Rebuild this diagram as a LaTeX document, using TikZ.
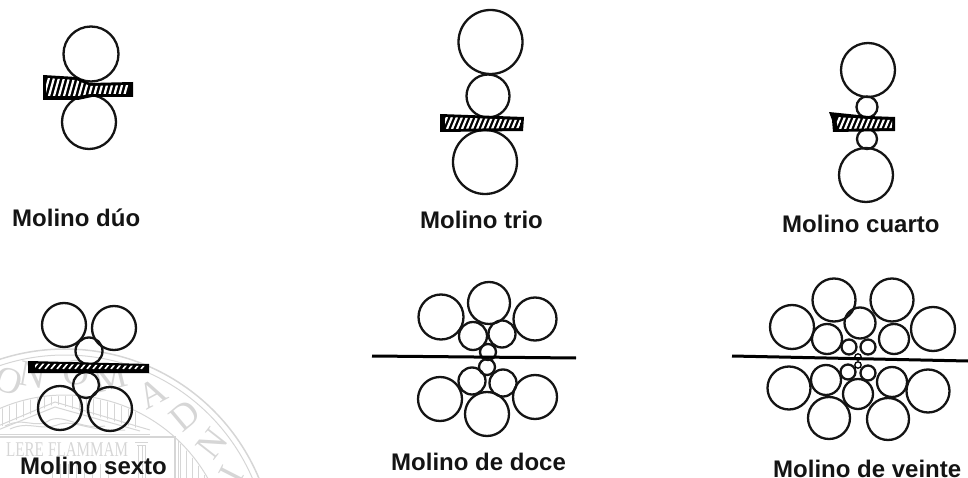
\documentclass[tikz,border=0pt]{standalone}
\usepackage{fontspec}
\setmainfont{Liberation Sans}
\newfontfamily\sealfont{Liberation Serif}
\definecolor{seal}{gray}{0.84}
\tikzset{
  roll/.style={draw=black!92,line width=2.3pt},
  millname/.style={font=\fontsize{24}{26}\selectfont\bfseries,inner sep=0pt,anchor=base west,text=black!92},
  sealring/.style={draw=seal,line width=1.5pt},
  sealthin/.style={draw=seal,line width=1pt},
  sealletter/.style={font=\sealfont\fontsize{37}{39}\selectfont,text=seal,inner sep=0pt},
}
\newcommand{\rollstrip}[8]{%
  \fill[black] #1;
  \begin{scope}
    \clip #2;
    \foreach \sx in {#3,#4,...,#5}{\draw[white,line width=#8] (\sx,#6) -- ++(5,#7-#6);}
  \end{scope}}
\begin{document}
\begin{tikzpicture}[x=1pt,y=-1pt]
\useasboundingbox (0,0) rectangle (968,478);
% watermark seal
\begin{scope}
  \clip (0,340) rectangle (290,478);
  \draw[sealring] (65,559) circle (210);
  \draw[sealthin] (65,559) circle (204);
  \draw[sealthin] (65,559) circle (164);
  \begin{scope}
    \clip (65,559) circle (163);
    \foreach \vx in {2,9,...,140}{\draw[sealthin] (\vx,385) -- (\vx,432);}
    \foreach \vx in {180,186,...,230}{\draw[sealthin] (\vx,385) -- (\vx,478);}
    \foreach \vx in {52,60,...,110}{\draw[sealthin] (\vx,464) -- (\vx,478);}
  \end{scope}
  \fill[white] (-2,428) -- (55,404) -- (150,432) -- (-2,432) -- cycle;
  \draw[sealthin] (-2,426) -- (55,402) -- (150,430);
  \draw[sealthin] (-2,430) -- (55,407) -- (140,431);
  \draw[sealthin] (0,434) -- (150,434);
  \draw[sealring] (0,437) -- (175,437) -- (175,478);
  \draw[sealthin] (178,440) -- (178,478);
  \draw[sealthin] (5,426) .. controls (25,416) and (35,430) .. (50,420) .. controls (65,414) and (80,430) .. (105,426);
  \draw[sealthin] (10,429) .. controls (30,420) and (40,432) .. (60,424) .. controls (75,420) and (90,432) .. (125,430);
  \draw[sealthin] (135,442) -- (148,442) (137,445) -- (146,445) (138,445) -- (138,478) (142,445) -- (142,478) (145,445) -- (145,478);
  \foreach \lt/\an in {O/-17.5,N/-10,O/3.5,M/14,A/28,D/40,N/52,I/63}{
    \node[sealletter,rotate=\an] at ({65+187*sin(\an)},{559-187*cos(\an)}) {\lt};
  }
  \node[sealletter,font=\sealfont\fontsize{21}{22}\selectfont,xscale=.72,anchor=base west] at (6,456) {LERE};
  \node[sealletter,font=\sealfont\fontsize{21}{22}\selectfont,xscale=.72,anchor=base west] at (48,456) {FLAMMAM};
\end{scope}
% duo
\draw[roll] (91,54) circle (27.5);
\draw[roll] (89,122) circle (27);
\rollstrip{(43,75) -- (76,77) -- (90,83) -- (133,82) -- (133,97) -- (92,97) -- (78,100) -- (43,100) -- cycle}{(46,78) -- (76,80) -- (90,86) -- (131,85) -- (131,94) -- (90,94) -- (78,96) -- (46,96) -- cycle}{44}{49}{128}{96}{78}{2.2pt}
% trio
\draw[roll] (490.5,42) circle (32);
\draw[roll] (488,96) circle (21.5);
\draw[roll] (485,162) circle (32);
\rollstrip{(440,114) -- (524,117) -- (523,131) -- (440,132) -- cycle}{(445,117) -- (521,120) -- (520,128) -- (445,129) -- cycle}{442}{447}{520}{129}{117}{2.2pt}
% cuarto
\draw[roll] (868,70) circle (27);
\draw[roll] (867,107) circle (10.5);
\draw[roll] (867,139) circle (10);
\draw[roll] (866,175) circle (27);
\rollstrip{(829,112) -- (868,116) -- (895,117) -- (895,131) -- (833,132) -- (832,120) -- cycle}{(836,117) -- (868,119) -- (892,120) -- (892,128) -- (838,129) -- cycle}{835}{840}{890}{129}{117}{2.2pt}
% sexto
\draw[roll] (64,325) circle (22);
\draw[roll] (114,328) circle (22);
\draw[roll] (89,351) circle (13.5);
\draw[roll] (86,385) circle (13);
\draw[roll] (60,408) circle (22);
\draw[roll] (110,409) circle (22);
\rollstrip{(28,361) -- (149,364) -- (149,373) -- (28,373) -- cycle}{(35,363.5) -- (146,366) -- (146,369) -- (35,369) -- cycle}{33}{39}{145}{369}{363}{1.6pt}
% doce
\foreach \px/\py/\pr in {441/317/22.5,489/303/21,535/319/21.5,473/336/14,502/334/13.5,488/352/8,487/367/8,472/381/13.5,503/383/13.5,440/399/22,487/414/22,535/397/22}{
  \draw[roll] (\px,\py) circle (\pr);
}
\draw[black,line width=3pt] (372,356) -- (576,358);
% veinte
\foreach \px/\py/\pr in {792/327/22,834/300/21.5,892/300/21.5,933/329/22,827/339/15,860/323/15.5,894/339/15,849/347/7.5,868/347/7.5,848/372/7.5,868/373/7.5,826/380/15,892/382/15,858/394/15,789/388/21.5,928/391/21.5,829/418/21,888/419/21}{
  \draw[roll] (\px,\py) circle (\pr);
}
\draw[black,line width=1.3pt] (858,357) circle (3.2);
\draw[black,line width=1.3pt] (858,365) circle (3.2);
\draw[black,line width=3pt] (732,356) -- (968,361);
% labels
\node[millname] (lduo) at (12,227) {Molino dúo};
\node[millname] (ltrio) at (420,229) {Molino trio};
\node[millname] (lcuarto) at (782,233) {Molino cuarto};
\node[millname] (lsexto) at (20,474) {Molino sexto};
\node[millname] (ldoce) at (391,470) {Molino de doce};
\node[millname] (lveinte) at (773,477) {Molino de veinte};
\end{tikzpicture}
\end{document}
